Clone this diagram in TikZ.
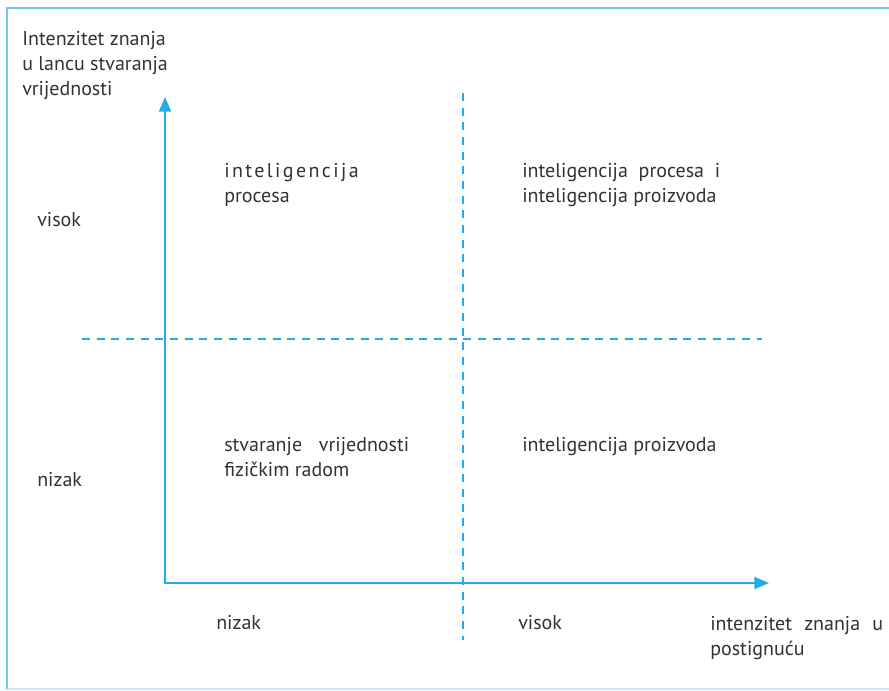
\documentclass[tikz,border=0pt]{standalone}
\usepackage{fontspec}
\setmainfont{PT Sans}
\usetikzlibrary{arrows.meta}

\definecolor{axisblue}{RGB}{38,170,228}
\definecolor{frameblue}{RGB}{110,200,240}
\definecolor{txtgray}{RGB}{50,50,50}

\begin{document}
\begin{tikzpicture}[x=0.75pt,y=-0.75pt,>={Triangle[length=11pt,width=9pt]}]
\tikzset{lbl/.style={anchor=base west,inner sep=0pt,text=txtgray,
                     font=\fontsize{15}{18.75}\selectfont,align=left},
         axis/.style={draw=axisblue,line width=1.4pt,line join=miter},
         grid/.style={draw=axisblue,line width=1.3pt,dash pattern=on 6pt off 5pt}
  }
\useasboundingbox (0,0) rectangle (889,690);

% frame
\draw[frameblue,line width=2pt] (7,690) -- (7,8) -- (889,8);
\draw[frameblue!40,line width=1pt] (7,689) -- (889,689);

%-----------------------------
\coordinate (origin) at (165,583);
\coordinate (ytip) at (165,97);
\coordinate (xtip) at (769,583);
\coordinate (vtop) at (463,93);
\coordinate (vbot) at (463,640);
\coordinate (hleft) at (82,339);
\coordinate (hright) at (762,339);

\draw[grid] (vtop) -- (vbot);
\draw[grid] (hleft) -- (hright);
\draw[axis,<->] (ytip) -- (origin) -- (xtip);

%-----------------------------
% multi-line nodes: position is the baseline of the last line
\node[lbl] (ylab) at (22,95) {Intenzitet znanja\\u lancu stvaranja\\vrijednosti};
\node[lbl] (yhigh) at (37,226) {visok};
\node[lbl] (ylow) at (37,486) {nizak};

\node[lbl] (q1) at (224,202) {{\addfontfeature{LetterSpace=12}inteligencija}\\procesa};
\node[lbl] (q2) at (522,202) {\makebox[148.5pt][s]{inteligencija procesa i}\\inteligencija proizvoda};
\node[lbl] (q3) at (224,476) {\makebox[138.75pt][s]{stvaranje vrijednosti}\\fizičkim radom};
\node[lbl] (q4) at (522,451) {inteligencija proizvoda};

\node[lbl] (xlow) at (216,629) {nizak};
\node[lbl] (xhigh) at (518,629) {visok};
\node[lbl] (xlab) at (710,655) {\makebox[129.75pt][s]{intenzitet znanja u}\\postignuću};

\end{tikzpicture}
\end{document}
